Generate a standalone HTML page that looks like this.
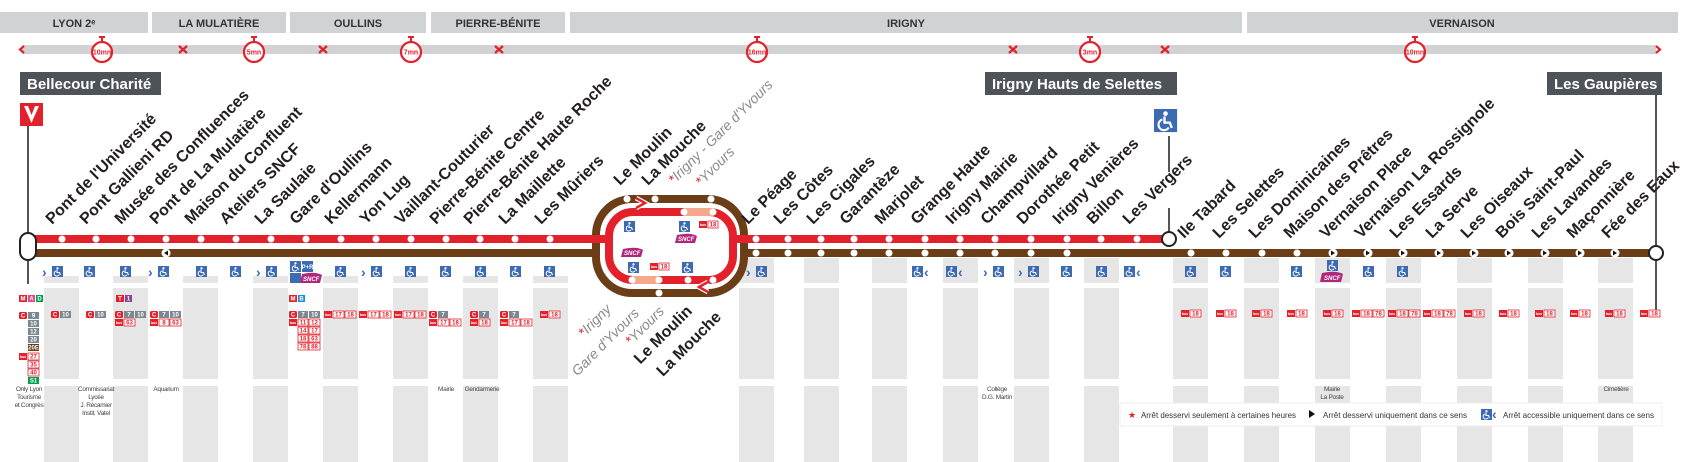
<!DOCTYPE html>
<html><head><meta charset="utf-8"><style>
html,body{margin:0;padding:0;background:#fff;}
svg{display:block;}
.hd{font:bold 11px "Liberation Sans",sans-serif;fill:#333;text-anchor:middle;}
.st{font:bold 16px "Liberation Sans",sans-serif;fill:#231f20;}
.it{font:italic 14px "Liberation Sans",sans-serif;fill:#8a8a8a;}
.box{font:bold 15px "Liberation Sans",sans-serif;fill:#fff;}
.sw{font:bold 7px "Liberation Sans",sans-serif;fill:#e3212b;text-anchor:middle;}
.b{font:bold 6px "Liberation Sans",sans-serif;fill:#fff;text-anchor:middle;}
.br{font:bold 6px "Liberation Sans",sans-serif;fill:#e3212b;text-anchor:middle;}
.bs{font:bold 3.5px "Liberation Sans",sans-serif;fill:#fff;text-anchor:middle;}
.pl{font:6.5px "Liberation Sans",sans-serif;fill:#444;text-anchor:middle;letter-spacing:-0.3px;}
.lg{font:8.5px "Liberation Sans",sans-serif;fill:#333;}
.ch{font:bold 14px "Liberation Sans",sans-serif;fill:#3d6bb3;}
.sn{font:italic bold 6px "Liberation Sans",sans-serif;fill:#fff;}
</style></head><body>
<svg width="1688" height="462" viewBox="0 0 1688 462" xmlns="http://www.w3.org/2000/svg">
<defs>
<g id="acc"><rect width="11" height="11" fill="#3d6bb3"/><circle cx="5.5" cy="2.2" r="1.1" fill="#fff"/><path d="M5 3.5 L5 6.5 L7.5 6.5 L8.5 9" stroke="#fff" stroke-width="1.1" fill="none"/><path d="M4 5 A2.6 2.6 0 1 0 7 8.8" stroke="#fff" stroke-width="1" fill="none"/></g>
</defs>
<g fill="#d1d2d4">
<rect x="0" y="12" width="148" height="21"/><rect x="152" y="12" width="134" height="21"/>
<rect x="290" y="12" width="136" height="21"/><rect x="431" y="12" width="134" height="21"/>
<rect x="570" y="12" width="672" height="21"/><rect x="1247" y="12" width="431" height="21"/>
</g>
<text class="hd" x="74" y="27">LYON 2ᵉ</text><text class="hd" x="219" y="27">LA MULATIÈRE</text>
<text class="hd" x="358" y="27">OULLINS</text><text class="hd" x="498" y="27">PIERRE-BÉNITE</text>
<text class="hd" x="906" y="27">IRIGNY</text><text class="hd" x="1462" y="27">VERNAISON</text>
<rect x="22" y="45" width="1634" height="9" fill="#d1d2d4"/>
<g stroke="#e3212b" stroke-width="2.2" fill="none">
<path d="M24 46 L20 49.5 L24 53"/><path d="M1656 46 L1660 49.5 L1656 53"/>
<path d="M179 46 L187 53 M187 46 L179 53"/><path d="M319 46 L327 53 M327 46 L319 53"/>
<path d="M495 46 L503 53 M503 46 L495 53"/><path d="M1009 46 L1017 53 M1017 46 L1009 53"/>
<path d="M1161 46 L1169 53 M1169 46 L1161 53"/>
</g>
<g>
<g transform="translate(102,52)"><rect x="-3" y="-16" width="6" height="2" fill="#e3212b"/><rect x="-1" y="-14" width="2" height="3" fill="#e3212b"/><circle r="10" fill="#fff" stroke="#e3212b" stroke-width="2.2"/><text class="sw" y="2.5">10mn</text></g>
<g transform="translate(254,52)"><rect x="-3" y="-16" width="6" height="2" fill="#e3212b"/><rect x="-1" y="-14" width="2" height="3" fill="#e3212b"/><circle r="10" fill="#fff" stroke="#e3212b" stroke-width="2.2"/><text class="sw" y="2.5">5mn</text></g>
<g transform="translate(411,52)"><rect x="-3" y="-16" width="6" height="2" fill="#e3212b"/><rect x="-1" y="-14" width="2" height="3" fill="#e3212b"/><circle r="10" fill="#fff" stroke="#e3212b" stroke-width="2.2"/><text class="sw" y="2.5">7mn</text></g>
<g transform="translate(757,52)"><rect x="-3" y="-16" width="6" height="2" fill="#e3212b"/><rect x="-1" y="-14" width="2" height="3" fill="#e3212b"/><circle r="10" fill="#fff" stroke="#e3212b" stroke-width="2.2"/><text class="sw" y="2.5">16mn</text></g>
<g transform="translate(1090,52)"><rect x="-3" y="-16" width="6" height="2" fill="#e3212b"/><rect x="-1" y="-14" width="2" height="3" fill="#e3212b"/><circle r="10" fill="#fff" stroke="#e3212b" stroke-width="2.2"/><text class="sw" y="2.5">3mn</text></g>
<g transform="translate(1415,52)"><rect x="-3" y="-16" width="6" height="2" fill="#e3212b"/><rect x="-1" y="-14" width="2" height="3" fill="#e3212b"/><circle r="10" fill="#fff" stroke="#e3212b" stroke-width="2.2"/><text class="sw" y="2.5">10mn</text></g>
</g>
<rect x="20" y="72" width="141" height="23" fill="#4d5359"/><text class="box" x="27" y="89">Bellecour Charité</text>
<rect x="985" y="72" width="192" height="23" fill="#4d5359"/><text class="box" x="992" y="89">Irigny Hauts de Selettes</text>
<rect x="1547" y="72" width="115" height="23" fill="#4d5359"/><text class="box" x="1554" y="89">Les Gaupières</text>
<rect x="20" y="103" width="23" height="23" fill="#e3212b"/><path d="M24 106 L31.5 123 L39 106 L35 106 L31.5 115 L28 106Z" fill="#fff"/>
<g stroke="#555" stroke-width="2">
<line x1="28" y1="126" x2="28" y2="284"/>
<line x1="1656" y1="95" x2="1656" y2="313"/>
<line x1="1169" y1="136" x2="1169" y2="172"/><line x1="1169" y1="208" x2="1169" y2="233"/>
</g>
<g transform="translate(1154,109) scale(2.1)"><use href="#acc"/></g>
<g fill="#e6e6e6">
<rect x="44" y="276" width="35" height="7"/><rect x="44" y="288" width="35" height="91"/><rect x="44" y="386" width="35" height="76"/>
<rect x="113" y="276" width="35" height="7"/><rect x="113" y="288" width="35" height="91"/><rect x="113" y="386" width="35" height="76"/>
<rect x="183" y="276" width="35" height="7"/><rect x="183" y="288" width="35" height="91"/><rect x="183" y="386" width="35" height="76"/>
<rect x="253" y="276" width="35" height="7"/><rect x="253" y="288" width="35" height="91"/><rect x="253" y="386" width="35" height="76"/>
<rect x="323" y="276" width="35" height="7"/><rect x="323" y="288" width="35" height="91"/><rect x="323" y="386" width="35" height="76"/>
<rect x="393" y="276" width="35" height="7"/><rect x="393" y="288" width="35" height="91"/><rect x="393" y="386" width="35" height="76"/>
<rect x="463" y="276" width="35" height="7"/><rect x="463" y="288" width="35" height="91"/><rect x="463" y="386" width="35" height="76"/>
<rect x="533" y="276" width="35" height="7"/><rect x="533" y="288" width="35" height="91"/><rect x="533" y="386" width="35" height="76"/>
<rect x="739" y="258" width="35" height="25"/><rect x="739" y="288" width="35" height="91"/><rect x="739" y="386" width="35" height="76"/>
<rect x="804" y="258" width="35" height="25"/><rect x="804" y="288" width="35" height="91"/><rect x="804" y="386" width="35" height="76"/>
<rect x="872" y="258" width="35" height="25"/><rect x="872" y="288" width="35" height="91"/><rect x="872" y="386" width="35" height="76"/>
<rect x="943" y="258" width="35" height="25"/><rect x="943" y="288" width="35" height="91"/><rect x="943" y="386" width="35" height="76"/>
<rect x="1014" y="258" width="35" height="25"/><rect x="1014" y="288" width="35" height="91"/><rect x="1014" y="386" width="35" height="76"/>
<rect x="1084" y="258" width="35" height="25"/><rect x="1084" y="288" width="35" height="91"/><rect x="1084" y="386" width="35" height="76"/>
<rect x="1173" y="258" width="35" height="25"/><rect x="1173" y="288" width="35" height="91"/><rect x="1173" y="386" width="35" height="76"/>
<rect x="1244" y="258" width="35" height="25"/><rect x="1244" y="288" width="35" height="91"/><rect x="1244" y="386" width="35" height="76"/>
<rect x="1315" y="258" width="35" height="25"/><rect x="1315" y="288" width="35" height="91"/><rect x="1315" y="386" width="35" height="76"/>
<rect x="1386" y="258" width="35" height="25"/><rect x="1386" y="288" width="35" height="91"/><rect x="1386" y="386" width="35" height="76"/>
<rect x="1457" y="258" width="35" height="25"/><rect x="1457" y="288" width="35" height="91"/><rect x="1457" y="386" width="35" height="76"/>
<rect x="1528" y="258" width="35" height="25"/><rect x="1528" y="288" width="35" height="91"/><rect x="1528" y="386" width="35" height="76"/>
<rect x="1598" y="258" width="35" height="25"/><rect x="1598" y="288" width="35" height="91"/><rect x="1598" y="386" width="35" height="76"/>
</g>
<line x1="34" y1="253" x2="600" y2="253" stroke="#6b3e17" stroke-width="8"/>
<line x1="740" y1="253" x2="1656" y2="253" stroke="#6b3e17" stroke-width="8"/>
<rect x="596" y="199" width="148" height="94" rx="36" fill="none" stroke="#6b3e17" stroke-width="8"/>
<rect x="609" y="212" width="124" height="68" rx="24" fill="none" stroke="#e3212b" stroke-width="8"/>
<line x1="34" y1="239" x2="611" y2="239" stroke="#e3212b" stroke-width="8"/>
<line x1="731" y1="239" x2="1169" y2="239" stroke="#e3212b" stroke-width="8"/>
<line x1="684" y1="212" x2="713" y2="212" stroke="#f5a88c" stroke-width="8"/>
<line x1="632" y1="280" x2="659" y2="280" stroke="#f5a88c" stroke-width="8"/>
<path d="M636 198 L645 203 L636 208" stroke="#fff" stroke-width="5" fill="none"/><path d="M636 198 L645 203 L636 208" stroke="#e3212b" stroke-width="2.5" fill="none"/>
<path d="M708 282 L699 287 L708 292" stroke="#fff" stroke-width="5" fill="none"/><path d="M708 282 L699 287 L708 292" stroke="#e3212b" stroke-width="2.5" fill="none"/>
<rect x="20" y="233" width="16" height="27" rx="8" fill="#fff" stroke="#222" stroke-width="2"/>
<circle cx="1169" cy="239" r="7" fill="#fff" stroke="#222" stroke-width="2"/>
<circle cx="1656" cy="253" r="7" fill="#fff" stroke="#222" stroke-width="2"/>
<g fill="#fff">
<circle cx="62" cy="239" r="3.5"/><circle cx="96" cy="239" r="3.5"/><circle cx="131" cy="239" r="3.5"/><circle cx="166" cy="239" r="3.5"/><circle cx="201" cy="239" r="3.5"/><circle cx="236" cy="239" r="3.5"/><circle cx="271" cy="239" r="3.5"/><circle cx="306" cy="239" r="3.5"/><circle cx="341" cy="239" r="3.5"/><circle cx="376" cy="239" r="3.5"/><circle cx="411" cy="239" r="3.5"/><circle cx="446" cy="239" r="3.5"/><circle cx="480" cy="239" r="3.5"/><circle cx="515" cy="239" r="3.5"/><circle cx="550" cy="239" r="3.5"/>
<circle cx="627" cy="199" r="3.5"/><circle cx="655" cy="199" r="3.5"/><circle cx="711" cy="199" r="3.5"/>
<circle cx="684" cy="212" r="3.5"/><circle cx="713" cy="212" r="3.5"/>
<circle cx="632" cy="280" r="3.5"/><circle cx="659" cy="280" r="3.5"/><circle cx="688" cy="280" r="3.5"/><circle cx="713" cy="280" r="3.5"/><circle cx="659" cy="293" r="3.5"/>
<circle cx="756" cy="239" r="3.5"/><circle cx="788" cy="239" r="3.5"/><circle cx="821" cy="239" r="3.5"/><circle cx="854" cy="239" r="3.5"/><circle cx="889" cy="239" r="3.5"/><circle cx="925" cy="239" r="3.5"/><circle cx="960" cy="239" r="3.5"/><circle cx="995" cy="239" r="3.5"/><circle cx="1031" cy="239" r="3.5"/><circle cx="1067" cy="239" r="3.5"/><circle cx="1101" cy="239" r="3.5"/><circle cx="1137" cy="239" r="3.5"/>
<circle cx="756" cy="253" r="3.5"/><circle cx="788" cy="253" r="3.5"/><circle cx="821" cy="253" r="3.5"/><circle cx="854" cy="253" r="3.5"/><circle cx="889" cy="253" r="3.5"/><circle cx="925" cy="253" r="3.5"/><circle cx="960" cy="253" r="3.5"/><circle cx="995" cy="253" r="3.5"/><circle cx="1031" cy="253" r="3.5"/><circle cx="1067" cy="253" r="3.5"/>
<circle cx="1191" cy="253" r="3.5"/><circle cx="1226" cy="253" r="3.5"/><circle cx="1262" cy="253" r="3.5"/><circle cx="1297" cy="253" r="3.5"/>
<circle cx="166" cy="253" r="4.5"/>
<circle cx="1333" cy="253" r="4.5"/><circle cx="1368" cy="253" r="4.5"/><circle cx="1403" cy="253" r="4.5"/><circle cx="1439" cy="253" r="4.5"/><circle cx="1474" cy="253" r="4.5"/><circle cx="1509" cy="253" r="4.5"/><circle cx="1545" cy="253" r="4.5"/><circle cx="1580" cy="253" r="4.5"/><circle cx="1615" cy="253" r="4.5"/>
</g>
<g fill="#111">
<path d="M164 253 L168 250.5 L168 255.5Z"/>
<path d="M1335 253 L1331 250.5 L1331 255.5Z"/><path d="M1370 253 L1366 250.5 L1366 255.5Z"/><path d="M1405 253 L1401 250.5 L1401 255.5Z"/><path d="M1441 253 L1437 250.5 L1437 255.5Z"/><path d="M1476 253 L1472 250.5 L1472 255.5Z"/><path d="M1511 253 L1507 250.5 L1507 255.5Z"/><path d="M1547 253 L1543 250.5 L1543 255.5Z"/><path d="M1582 253 L1578 250.5 L1578 255.5Z"/><path d="M1617 253 L1613 250.5 L1613 255.5Z"/>
</g>
<g class="st">
<text transform="translate(52,225) rotate(-45)">Pont de l'Université</text>
<text transform="translate(86,225) rotate(-45)">Pont Gallieni RD</text>
<text transform="translate(121,225) rotate(-45)">Musée des Confluences</text>
<text transform="translate(156,225) rotate(-45)">Pont de La Mulatière</text>
<text transform="translate(191,225) rotate(-45)">Maison du Confluent</text>
<text transform="translate(226,225) rotate(-45)">Ateliers SNCF</text>
<text transform="translate(261,225) rotate(-45)">La Saulaie</text>
<text transform="translate(296,225) rotate(-45)">Gare d'Oullins</text>
<text transform="translate(331,225) rotate(-45)">Kellermann</text>
<text transform="translate(366,225) rotate(-45)">Yon Lug</text>
<text transform="translate(401,225) rotate(-45)">Vaillant-Couturier</text>
<text transform="translate(436,225) rotate(-45)">Pierre-Bénite Centre</text>
<text transform="translate(470,225) rotate(-45)">Pierre-Bénite Haute Roche</text>
<text transform="translate(505,225) rotate(-45)">La Maillette</text>
<text transform="translate(541,225) rotate(-45)">Les Mûriers</text>
<text transform="translate(620,186) rotate(-45)">Le Moulin</text>
<text transform="translate(648,186) rotate(-45)">La Mouche</text>
<text transform="translate(748,225) rotate(-45)">Le Péage</text>
<text transform="translate(780,225) rotate(-45)">Les Côtes</text>
<text transform="translate(813,225) rotate(-45)">Les Cigales</text>
<text transform="translate(846,225) rotate(-45)">Garantèze</text>
<text transform="translate(881,225) rotate(-45)">Marjolet</text>
<text transform="translate(917,225) rotate(-45)">Grange Haute</text>
<text transform="translate(952,225) rotate(-45)">Irigny Mairie</text>
<text transform="translate(987,225) rotate(-45)">Champvillard</text>
<text transform="translate(1023,225) rotate(-45)">Dorothée Petit</text>
<text transform="translate(1059,225) rotate(-45)">Irigny Venières</text>
<text transform="translate(1093,225) rotate(-45)">Billon</text>
<text transform="translate(1129,225) rotate(-45)">Les Vergers</text>
<text transform="translate(1184,239) rotate(-45)">Ile Tabard</text>
<text transform="translate(1219,239) rotate(-45)">Les Selettes</text>
<text transform="translate(1255,239) rotate(-45)">Les Dominicaines</text>
<text transform="translate(1290,239) rotate(-45)">Maison des Prêtres</text>
<text transform="translate(1326,239) rotate(-45)">Vernaison Place</text>
<text transform="translate(1361,239) rotate(-45)">Vernaison La Rossignole</text>
<text transform="translate(1396,239) rotate(-45)">Les Essards</text>
<text transform="translate(1432,239) rotate(-45)">La Serve</text>
<text transform="translate(1467,239) rotate(-45)">Les Oiseaux</text>
<text transform="translate(1502,239) rotate(-45)">Bois Saint-Paul</text>
<text transform="translate(1538,239) rotate(-45)">Les Lavandes</text>
<text transform="translate(1573,239) rotate(-45)">Maçonnière</text>
<text transform="translate(1608,239) rotate(-45)">Fée des Eaux</text>
<text transform="translate(693,312) rotate(-45)" text-anchor="end">Le Moulin</text>
<text transform="translate(722,318) rotate(-45)" text-anchor="end">La Mouche</text>
</g>
<g class="it">
<text transform="translate(674,185) rotate(-45)"><tspan fill="#e3212b">*</tspan>Irigny - Gare d'Yvours</text>
<text transform="translate(701,187) rotate(-45)"><tspan fill="#e3212b">*</tspan>Yvours</text>
<text transform="translate(612,310) rotate(-45)" text-anchor="end"><tspan fill="#e3212b">*</tspan>Irigny</text>
<text transform="translate(640,314) rotate(-45)" text-anchor="end">Gare d'Yvours</text>
<text transform="translate(665,312) rotate(-45)" text-anchor="end"><tspan fill="#e3212b">*</tspan>Yvours</text>
</g>
<use href="#acc" x="624" y="221"/><use href="#acc" x="679" y="221"/>
<rect x="699" y="221" width="8" height="7" fill="#e3212b"/><text class="bs" x="703" y="226">bus</text><rect x="708" y="221" width="10" height="7" fill="#fff" stroke="#e3212b" stroke-width=".8"/><text class="br" x="713" y="226.5">18</text>
<path d="M677 235 Q690 232 697 236 L695 243 L675 243Z" fill="#b0267a"/><text class="sn" x="678" y="241">SNCF</text>
<path d="M623 249 Q636 246 643 250 L641 257 L621 257Z" fill="#b0267a"/><text class="sn" x="624" y="255">SNCF</text>
<use href="#acc" x="628" y="262"/><use href="#acc" x="682" y="262"/>
<rect x="650" y="263" width="8" height="7" fill="#e3212b"/><text class="bs" x="654" y="268">bus</text><rect x="659" y="263" width="10" height="7" fill="#fff" stroke="#e3212b" stroke-width=".8"/><text class="br" x="664" y="268.5">18</text>
<g>
<use href="#acc" x="52" y="266"/><text class="ch" x="42" y="277">›</text>
<use href="#acc" x="84" y="266"/><use href="#acc" x="120" y="266"/>
<use href="#acc" x="158" y="266"/><text class="ch" x="148" y="277">›</text>
<use href="#acc" x="196" y="266"/><use href="#acc" x="230" y="266"/>
<use href="#acc" x="266" y="266"/><text class="ch" x="256" y="277">›</text>
<use href="#acc" x="290" y="261"/><rect x="302" y="261" width="11" height="11" fill="#3d6bb3"/><text class="b" x="307.5" y="269">P+R</text>
<rect x="290" y="273" width="11" height="10" fill="#3d6bb3"/><path d="M302 274 Q315 271 322 275 L320 283 L300 283Z" fill="#b0267a"/><text class="sn" x="303" y="281">SNCF</text>
<use href="#acc" x="335" y="266"/>
<use href="#acc" x="371" y="266"/><text class="ch" x="361" y="277">›</text>
<use href="#acc" x="405" y="266"/><use href="#acc" x="440" y="266"/><use href="#acc" x="475" y="266"/><use href="#acc" x="510" y="266"/><use href="#acc" x="544" y="266"/>
<use href="#acc" x="756" y="266"/><text class="ch" x="746" y="277">›</text>
<use href="#acc" x="912" y="266"/><text class="ch" x="924" y="277">‹</text>
<use href="#acc" x="946" y="266"/><text class="ch" x="958" y="277">‹</text>
<use href="#acc" x="993" y="266"/><text class="ch" x="983" y="277">›</text>
<use href="#acc" x="1028" y="266"/><text class="ch" x="1018" y="277">›</text>
<use href="#acc" x="1061" y="266"/><use href="#acc" x="1096" y="266"/>
<use href="#acc" x="1124" y="266"/><text class="ch" x="1136" y="277">‹</text>
<use href="#acc" x="1185" y="266"/><use href="#acc" x="1220" y="266"/><use href="#acc" x="1291" y="266"/>
<use href="#acc" x="1327" y="260"/><path d="M1322 273 Q1336 270 1343 274 L1341 282 L1320 282Z" fill="#b0267a"/><text class="sn" x="1324" y="280">SNCF</text>
<use href="#acc" x="1363" y="266"/><use href="#acc" x="1397" y="266"/>
</g>
<g>
<rect x="19" y="295" width="8" height="7" fill="#e3212b"/><text class="b" x="23" y="300.5">M</text>
<rect x="28" y="295" width="7" height="7" fill="#e2418d"/><text class="b" x="31.5" y="300.5">A</text>
<rect x="36" y="295" width="7" height="7" fill="#00a14b"/><text class="b" x="39.5" y="300.5">D</text>
<rect x="19" y="312" width="8" height="7" rx="1.5" fill="#e3212b"/><text class="b" x="23" y="317.5">C</text>
<rect x="28" y="312" width="11" height="7" fill="#7b8891"/><text class="b" x="33.5" y="317.5">9</text>
<rect x="28" y="320" width="11" height="7" fill="#7b8891"/><text class="b" x="33.5" y="325.5">10</text>
<rect x="28" y="328" width="11" height="7" fill="#7b8891"/><text class="b" x="33.5" y="333.5">12</text>
<rect x="28" y="336" width="11" height="7" fill="#7b8891"/><text class="b" x="33.5" y="341.5">20</text>
<rect x="28" y="344" width="11" height="7" fill="#6b3e17"/><text class="b" x="33.5" y="349.5">20E</text>
<rect x="19" y="353" width="8" height="7" fill="#e3212b"/><text class="bs" x="23" y="358">bus</text>
<rect x="28" y="353" width="11" height="7" fill="#fff" stroke="#e3212b" stroke-width=".8"/><text class="br" x="33.5" y="358.5">27</text>
<rect x="28" y="361" width="11" height="7" fill="#fff" stroke="#e3212b" stroke-width=".8"/><text class="br" x="33.5" y="366.5">35</text>
<rect x="28" y="369" width="11" height="7" fill="#fff" stroke="#e3212b" stroke-width=".8"/><text class="br" x="33.5" y="374.5">40</text>
<rect x="28" y="377" width="11" height="7" fill="#00a14b"/><text class="b" x="33.5" y="382.5">S1</text>
<rect x="51" y="311" width="8" height="7" rx="1.5" fill="#e3212b"/><text class="b" x="55" y="316.5">C</text><rect x="60" y="311" width="11" height="7" fill="#7b8891"/><text class="b" x="65.5" y="316.5">10</text>
<rect x="86" y="311" width="8" height="7" rx="1.5" fill="#e3212b"/><text class="b" x="90" y="316.5">C</text><rect x="95" y="311" width="11" height="7" fill="#7b8891"/><text class="b" x="100.5" y="316.5">10</text>
<rect x="116" y="295" width="8" height="7" fill="#e3212b"/><text class="b" x="120" y="300.5">T</text><rect x="125" y="295" width="7" height="7" fill="#8e3f97"/><text class="b" x="128.5" y="300.5">1</text>
<rect x="115" y="311" width="8" height="7" rx="1.5" fill="#e3212b"/><text class="b" x="119" y="316.5">C</text><rect x="124" y="311" width="10" height="7" fill="#7b8891"/><text class="b" x="129" y="316.5">7</text><rect x="135" y="311" width="11" height="7" fill="#7b8891"/><text class="b" x="140.5" y="316.5">10</text>
<rect x="115" y="319" width="8" height="7" fill="#e3212b"/><text class="bs" x="119" y="324">bus</text><rect x="124" y="319" width="11" height="7" fill="#fff" stroke="#e3212b" stroke-width=".8"/><text class="br" x="129.5" y="324.5">63</text>
<rect x="150" y="311" width="8" height="7" rx="1.5" fill="#e3212b"/><text class="b" x="154" y="316.5">C</text><rect x="159" y="311" width="10" height="7" fill="#7b8891"/><text class="b" x="164" y="316.5">7</text><rect x="170" y="311" width="11" height="7" fill="#7b8891"/><text class="b" x="175.5" y="316.5">10</text>
<rect x="150" y="319" width="8" height="7" fill="#e3212b"/><text class="bs" x="154" y="324">bus</text><rect x="159" y="319" width="10" height="7" fill="#fff" stroke="#e3212b" stroke-width=".8"/><text class="br" x="164" y="324.5">8</text><rect x="170" y="319" width="11" height="7" fill="#fff" stroke="#e3212b" stroke-width=".8"/><text class="br" x="175.5" y="324.5">63</text>
<rect x="289" y="295" width="8" height="7" fill="#e3212b"/><text class="b" x="293" y="300.5">M</text><rect x="298" y="295" width="7" height="7" fill="#1d8fd6"/><text class="b" x="301.5" y="300.5">B</text>
<rect x="289" y="311" width="8" height="7" rx="1.5" fill="#e3212b"/><text class="b" x="293" y="316.5">C</text><rect x="298" y="311" width="10" height="7" fill="#7b8891"/><text class="b" x="303" y="316.5">7</text><rect x="309" y="311" width="11" height="7" fill="#7b8891"/><text class="b" x="314.5" y="316.5">10</text>
<rect x="289" y="319" width="8" height="7" fill="#e3212b"/><text class="bs" x="293" y="324">bus</text>
<g stroke="#e3212b" stroke-width=".8" fill="#fff">
<rect x="298" y="319" width="10" height="7"/><rect x="309" y="319" width="11" height="7"/>
<rect x="298" y="327" width="10" height="7"/><rect x="309" y="327" width="11" height="7"/>
<rect x="298" y="335" width="10" height="7"/><rect x="309" y="335" width="11" height="7"/>
<rect x="298" y="343" width="10" height="7"/><rect x="309" y="343" width="11" height="7"/>
</g>
<text class="br" x="303" y="324.5">11</text><text class="br" x="314.5" y="324.5">12</text>
<text class="br" x="303" y="332.5">14</text><text class="br" x="314.5" y="332.5">17</text>
<text class="br" x="303" y="340.5">18</text><text class="br" x="314.5" y="340.5">63</text>
<text class="br" x="303" y="348.5">78</text><text class="br" x="314.5" y="348.5">88</text>
<rect x="324" y="311" width="8" height="7" fill="#e3212b"/><text class="bs" x="328" y="316">bus</text><rect x="333" y="311" width="11" height="7" fill="#fff" stroke="#e3212b" stroke-width=".8"/><text class="br" x="338.5" y="316.5">17</text><rect x="345" y="311" width="11" height="7" fill="#fff" stroke="#e3212b" stroke-width=".8"/><text class="br" x="350.5" y="316.5">18</text>
<rect x="359" y="311" width="8" height="7" fill="#e3212b"/><text class="bs" x="363" y="316">bus</text><rect x="368" y="311" width="11" height="7" fill="#fff" stroke="#e3212b" stroke-width=".8"/><text class="br" x="373.5" y="316.5">17</text><rect x="380" y="311" width="11" height="7" fill="#fff" stroke="#e3212b" stroke-width=".8"/><text class="br" x="385.5" y="316.5">18</text>
<rect x="394" y="311" width="8" height="7" fill="#e3212b"/><text class="bs" x="398" y="316">bus</text><rect x="403" y="311" width="11" height="7" fill="#fff" stroke="#e3212b" stroke-width=".8"/><text class="br" x="408.5" y="316.5">17</text><rect x="415" y="311" width="11" height="7" fill="#fff" stroke="#e3212b" stroke-width=".8"/><text class="br" x="420.5" y="316.5">18</text>
<rect x="429" y="311" width="8" height="7" rx="1.5" fill="#e3212b"/><text class="b" x="433" y="316.5">C</text><rect x="438" y="311" width="10" height="7" fill="#7b8891"/><text class="b" x="443" y="316.5">7</text>
<rect x="429" y="319" width="8" height="7" fill="#e3212b"/><text class="bs" x="433" y="324">bus</text><rect x="438" y="319" width="11" height="7" fill="#fff" stroke="#e3212b" stroke-width=".8"/><text class="br" x="443.5" y="324.5">17</text><rect x="450" y="319" width="11" height="7" fill="#fff" stroke="#e3212b" stroke-width=".8"/><text class="br" x="455.5" y="324.5">18</text>
<rect x="470" y="311" width="8" height="7" rx="1.5" fill="#e3212b"/><text class="b" x="474" y="316.5">C</text><rect x="479" y="311" width="10" height="7" fill="#7b8891"/><text class="b" x="484" y="316.5">7</text>
<rect x="470" y="319" width="8" height="7" fill="#e3212b"/><text class="bs" x="474" y="324">bus</text><rect x="479" y="319" width="11" height="7" fill="#fff" stroke="#e3212b" stroke-width=".8"/><text class="br" x="484.5" y="324.5">18</text>
<rect x="500" y="311" width="8" height="7" rx="1.5" fill="#e3212b"/><text class="b" x="504" y="316.5">C</text><rect x="509" y="311" width="10" height="7" fill="#7b8891"/><text class="b" x="514" y="316.5">7</text>
<rect x="500" y="319" width="8" height="7" fill="#e3212b"/><text class="bs" x="504" y="324">bus</text><rect x="509" y="319" width="11" height="7" fill="#fff" stroke="#e3212b" stroke-width=".8"/><text class="br" x="514.5" y="324.5">17</text><rect x="521" y="319" width="11" height="7" fill="#fff" stroke="#e3212b" stroke-width=".8"/><text class="br" x="526.5" y="324.5">18</text>
<rect x="540" y="311" width="8" height="7" fill="#e3212b"/><text class="bs" x="544" y="316">bus</text><rect x="549" y="311" width="11" height="7" fill="#fff" stroke="#e3212b" stroke-width=".8"/><text class="br" x="554.5" y="316.5">18</text>
<g>
<rect x="1181" y="310" width="8" height="7" fill="#e3212b"/><rect x="1190" y="310" width="11" height="7" fill="#fff" stroke="#e3212b" stroke-width=".8"/>
<rect x="1216" y="310" width="8" height="7" fill="#e3212b"/><rect x="1225" y="310" width="11" height="7" fill="#fff" stroke="#e3212b" stroke-width=".8"/>
<rect x="1252" y="310" width="8" height="7" fill="#e3212b"/><rect x="1261" y="310" width="11" height="7" fill="#fff" stroke="#e3212b" stroke-width=".8"/>
<rect x="1287" y="310" width="8" height="7" fill="#e3212b"/><rect x="1296" y="310" width="11" height="7" fill="#fff" stroke="#e3212b" stroke-width=".8"/>
<rect x="1323" y="310" width="8" height="7" fill="#e3212b"/><rect x="1332" y="310" width="11" height="7" fill="#fff" stroke="#e3212b" stroke-width=".8"/>
<rect x="1352" y="310" width="8" height="7" fill="#e3212b"/><rect x="1361" y="310" width="11" height="7" fill="#fff" stroke="#e3212b" stroke-width=".8"/><rect x="1373" y="310" width="11" height="7" fill="#fff" stroke="#e3212b" stroke-width=".8"/>
<rect x="1388" y="310" width="8" height="7" fill="#e3212b"/><rect x="1397" y="310" width="11" height="7" fill="#fff" stroke="#e3212b" stroke-width=".8"/><rect x="1409" y="310" width="11" height="7" fill="#fff" stroke="#e3212b" stroke-width=".8"/>
<rect x="1423" y="310" width="8" height="7" fill="#e3212b"/><rect x="1432" y="310" width="11" height="7" fill="#fff" stroke="#e3212b" stroke-width=".8"/><rect x="1444" y="310" width="11" height="7" fill="#fff" stroke="#e3212b" stroke-width=".8"/>
<rect x="1464" y="310" width="8" height="7" fill="#e3212b"/><rect x="1473" y="310" width="11" height="7" fill="#fff" stroke="#e3212b" stroke-width=".8"/>
<rect x="1499" y="310" width="8" height="7" fill="#e3212b"/><rect x="1508" y="310" width="11" height="7" fill="#fff" stroke="#e3212b" stroke-width=".8"/>
<rect x="1535" y="310" width="8" height="7" fill="#e3212b"/><rect x="1544" y="310" width="11" height="7" fill="#fff" stroke="#e3212b" stroke-width=".8"/>
<rect x="1570" y="310" width="8" height="7" fill="#e3212b"/><rect x="1579" y="310" width="11" height="7" fill="#fff" stroke="#e3212b" stroke-width=".8"/>
<rect x="1605" y="310" width="8" height="7" fill="#e3212b"/><rect x="1614" y="310" width="11" height="7" fill="#fff" stroke="#e3212b" stroke-width=".8"/>
<rect x="1640" y="310" width="8" height="7" fill="#e3212b"/><rect x="1649" y="310" width="11" height="7" fill="#fff" stroke="#e3212b" stroke-width=".8"/>
</g>
<g class="bs">
<text x="1185" y="315">bus</text><text x="1220" y="315">bus</text><text x="1256" y="315">bus</text><text x="1291" y="315">bus</text><text x="1327" y="315">bus</text><text x="1356" y="315">bus</text><text x="1392" y="315">bus</text><text x="1427" y="315">bus</text><text x="1468" y="315">bus</text><text x="1503" y="315">bus</text><text x="1539" y="315">bus</text><text x="1574" y="315">bus</text><text x="1609" y="315">bus</text><text x="1644" y="315">bus</text>
</g>
<g class="br">
<text x="1195.5" y="315.5">18</text><text x="1230.5" y="315.5">18</text><text x="1266.5" y="315.5">18</text><text x="1301.5" y="315.5">18</text><text x="1337.5" y="315.5">18</text><text x="1366.5" y="315.5">18</text><text x="1378.5" y="315.5">78</text><text x="1402.5" y="315.5">18</text><text x="1414.5" y="315.5">78</text><text x="1437.5" y="315.5">18</text><text x="1449.5" y="315.5">78</text><text x="1478.5" y="315.5">18</text><text x="1513.5" y="315.5">18</text><text x="1549.5" y="315.5">18</text><text x="1584.5" y="315.5">18</text><text x="1619.5" y="315.5">18</text><text x="1654.5" y="315.5">18</text>
</g>
</g>
<g class="pl">
<text x="29" y="391">Only Lyon</text><text x="29" y="399">Tourisme</text><text x="29" y="407">et Congrès</text>
<text x="96" y="391">Commissariat</text><text x="96" y="399">Lycée</text><text x="96" y="407">J. Récamier</text><text x="96" y="415">Instit. Vatel</text>
<text x="166" y="391">Aquarium</text>
<text x="446" y="391">Mairie</text><text x="482" y="391">Gendarmerie</text>
<text x="997" y="391">Collège</text><text x="997" y="399">D.G. Martin</text>
<text x="1332" y="391">Mairie</text><text x="1332" y="399">La Poste</text>
<text x="1616" y="391">Cimetière</text>
</g>
<rect x="1120" y="403" width="542" height="23" fill="#fff" stroke="#ececec"/>
<text x="1128" y="418" font-family="DejaVu Sans,sans-serif" font-size="9" fill="#e3212b">★</text>
<text class="lg" x="1141" y="418" textLength="155" lengthAdjust="spacingAndGlyphs">Arrêt desservi seulement à certaines heures</text>
<path d="M1309 410 L1315 414 L1309 418Z" fill="#111"/>
<text class="lg" x="1323" y="418" textLength="144" lengthAdjust="spacingAndGlyphs">Arrêt desservi uniquement dans ce sens</text>
<use href="#acc" x="1481" y="409"/><text class="ch" x="1492" y="419" font-size="13">‹</text>
<text class="lg" x="1503" y="418" textLength="151" lengthAdjust="spacingAndGlyphs">Arrêt accessible uniquement dans ce sens</text>
</svg>
</body></html>
